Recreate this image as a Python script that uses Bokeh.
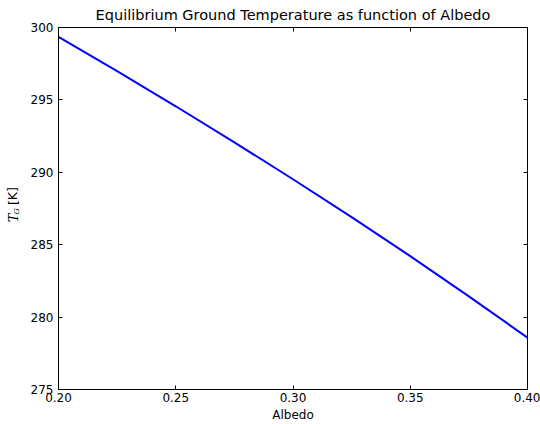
from bokeh.plotting import figure
from bokeh.layouts import row
from bokeh.models import Range1d, LinearAxis, FixedTicker, Label, NumeralTickFormatter, Title
from bokeh.embed import file_html
from bokeh.resources import INLINE

# Equilibrium ground temperature (K) sampled over albedo
albedo = [0.200, 0.225, 0.250, 0.275, 0.300, 0.325, 0.350, 0.375, 0.400]
t_ground = [299.35, 296.98, 294.56, 292.07, 289.52, 286.90, 284.21, 281.43, 278.58]

x_ticks = [0.20, 0.25, 0.30, 0.35, 0.40]
y_ticks = [275, 280, 285, 290, 295, 300]

FONT = "DejaVu Sans"

p = figure(width=513, height=424, output_backend="svg", toolbar_location=None,
           x_range=Range1d(0.2, 0.4), y_range=Range1d(275, 300),
           min_border_left=30, min_border_right=13, min_border_top=0, min_border_bottom=0,
           x_axis_location=None, y_axis_location=None)
p.grid.visible = False
p.background_fill_color = "white"
p.outline_line_color = "black"
p.outline_line_width = 1

p.line(albedo, t_ground, line_color="#0000ff", line_width=2)


def style_axis(ax, ticks, show_labels):
    ax.ticker = FixedTicker(ticks=ticks)
    ax.major_tick_in = 4
    ax.major_tick_out = 0
    ax.minor_tick_in = 0
    ax.minor_tick_out = 0
    ax.axis_line_color = "black"
    ax.major_tick_line_color = "black"
    ax.major_label_text_font = FONT
    ax.major_label_text_font_size = "12px"
    ax.major_label_text_color = "black"
    ax.major_label_standoff = 5
    if not show_labels:
        ax.major_label_text_alpha = 0
        ax.major_label_text_font_size = "0px"
        ax.major_label_standoff = 0


xb = LinearAxis(formatter=NumeralTickFormatter(format="0.00"))
xt = LinearAxis(formatter=NumeralTickFormatter(format="0.00"))
yl = LinearAxis()
yr = LinearAxis()
style_axis(xb, x_ticks, True)
style_axis(xt, x_ticks, False)
style_axis(yl, y_ticks, True)
style_axis(yr, y_ticks, False)
xb.major_label_standoff = 3
xb.axis_label = "Albedo"
xb.axis_label_text_font = FONT
xb.axis_label_text_font_style = "normal"
xb.axis_label_text_font_size = "12px"
xb.axis_label_text_color = "black"
xb.axis_label_standoff = 3
p.add_layout(xb, "below")
p.add_layout(xt, "above")
p.add_layout(yl, "left")
p.add_layout(yr, "right")

# Title above the frame
p.add_layout(Title(text="Equilibrium Ground Temperature as function of Albedo",
                   text_font=FONT, text_font_size="14.5px", text_font_style="normal",
                   text_color="black", align="center", standoff=9, offset=0), "above")

# Narrow strip on the left carrying the y-axis label: italic T, subscript G, then [K]
lab = figure(width=27, height=424, output_backend="svg", toolbar_location=None,
             x_range=Range1d(0, 27), y_range=Range1d(0, 424), min_border=0,
             x_axis_location=None, y_axis_location=None)
lab.grid.visible = False
lab.outline_line_color = None
lab_kw = dict(angle=1.5708, text_baseline="middle", text_align="left", text_color="black")
lab.add_layout(Label(x=13, y=196, text="T", text_font="DejaVu Serif",
                     text_font_style="italic", text_font_size="13px", **lab_kw))
lab.add_layout(Label(x=15.5, y=205, text="G", text_font="DejaVu Serif",
                     text_font_style="italic", text_font_size="8px", **lab_kw))
lab.add_layout(Label(x=12.5, y=216, text="[K]", text_font=FONT,
                     text_font_size="12.5px", **lab_kw))

layout = row(lab, p, spacing=0)
open("out.html", "w").write(file_html(layout, INLINE))
